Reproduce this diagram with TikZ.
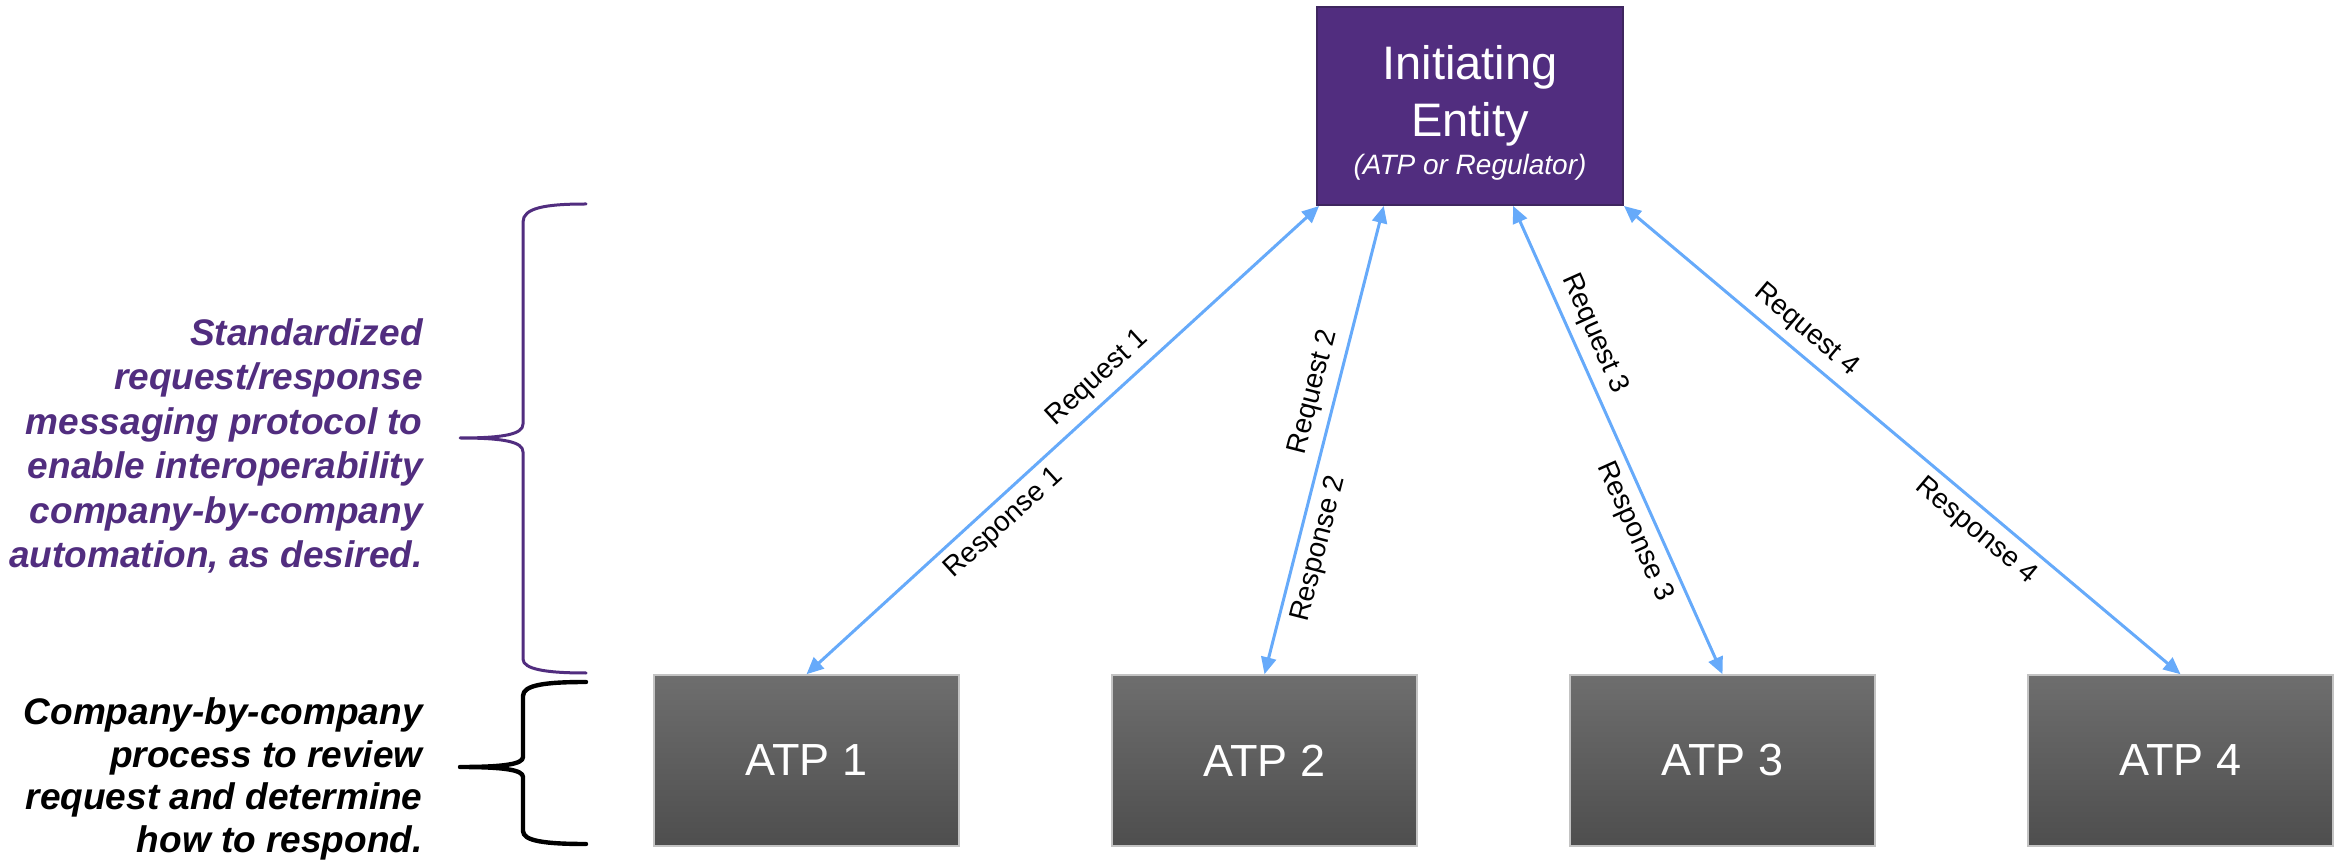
\documentclass[tikz,border=0pt]{standalone}
\usepackage{fontspec}
\setmainfont{Liberation Sans}
\usetikzlibrary{arrows.meta,calc}
\definecolor{entpurple}{RGB}{81,45,127}
\definecolor{entborder}{RGB}{62,38,95}
\definecolor{arrowblue}{RGB}{102,170,250}
\definecolor{atptop}{RGB}{110,110,110}
\definecolor{atpbot}{RGB}{78,78,78}
\definecolor{atpborder}{RGB}{195,195,195}
\begin{document}
\begin{tikzpicture}[x=0.5pt,y=-0.5pt,
  entbox/.style={draw=entborder, line width=1pt, fill=entpurple, minimum width=153pt, minimum height=99pt, inner sep=0pt},
  enttext/.style={text=white, inner sep=0pt, font=\fontsize{23.5}{28}\selectfont},
  entsub/.style={text=white, inner sep=0pt, font=\fontsize{14}{17}\selectfont\itshape},
  atpbox/.style={draw=atpborder, line width=0.75pt, top color=atptop, bottom color=atpbot, minimum width=152.5pt, minimum height=85.5pt, inner sep=0pt, text=white, font=\fontsize{22.5}{27}\selectfont},
  link/.style={draw=arrowblue, line width=1.5pt, {Triangle[length=8.5pt,width=7.5pt]}-{Triangle[length=8.5pt,width=7.5pt]}},
  lab/.style={sloped, text=black, inner sep=4pt, font=\fontsize{14}{17}\selectfont},
  sidepurple/.style={text=entpurple, align=right, inner sep=0pt, font=\fontsize{18.5}{22.3}\selectfont\bfseries\itshape},
  sideblack/.style={text=black, align=right, inner sep=0pt, font=\fontsize{18.5}{21.2}\selectfont\bfseries\itshape},
  bracepurple/.style={draw=entpurple, line width=1.5pt, line cap=round, line join=round},
  braceblack/.style={draw=black, line width=2.2pt, line cap=round, line join=round}
]
\useasboundingbox (0,0) rectangle (2345,865);

% initiating entity
\node[entbox] (ent) at (1470,106) {};
\node[enttext, anchor=base] (entl1) at (1470,80) {Initiating};
\node[enttext, anchor=base] (entl2) at (1470,137) {Entity};
\node[entsub, anchor=base] (entl3) at (1470,175) {(ATP or Regulator)};

% ATP boxes
\node[atpbox] (atp1) at (806.5,760.5) {ATP 1};
\node[atpbox] (atp2) at (1264.5,760.5) {ATP 2};
\node[atpbox] (atp3) at (1722.5,760.5) {ATP 3};
\node[atpbox] (atp4) at (2180.5,760.5) {ATP 4};

% attachment points on the entity box
\coordinate (e1) at ($(ent.south west)!0.01!(ent.south east)$);
\coordinate (e2) at ($(ent.south west)!0.22!(ent.south east)$);
\coordinate (e3) at ($(ent.south west)!0.64!(ent.south east)$);
\coordinate (e4) at (ent.south east);

% connectors
\draw[link] (e1) -- (atp1.north)
  node[lab, above, pos=0.403] (rq1) {Request 1}
  node[lab, below, pos=0.643] (rs1) {Response 1};
\draw[link] (e2) -- (atp2.north)
  node[lab, above, pos=0.409] (rq2) {Request 2}
  node[lab, below, pos=0.720] (rs2) {Response 2};
\draw[link] (e3) -- (atp3.north)
  node[lab, above, pos=0.292] (rq3) {Request 3}
  node[lab, below, pos=0.676] (rs3) {Response 3};
\draw[link] (e4) -- (atp4.north)
  node[lab, above, pos=0.302] (rq4) {Request 4}
  node[lab, below, pos=0.658] (rs4) {Response 4};

% side texts
\node[sidepurple, anchor=base east] (stdtext) at (423,568) {Standardized\\request/response\\messaging protocol to\\enable interoperability\\company-by-company\\automation, as desired.};
\node[sideblack, anchor=base east] (cbctext) at (423,852) {Company-by-company\\process to review\\request and determine\\how to respond.};

% braces
\draw[bracepurple] (586,204) .. controls (545,204) and (523,208) .. (523,222) -- (523,424)
  .. controls (523,434) and (505,438) .. (460,438)
  .. controls (505,438) and (523,442) .. (523,452) -- (523,659)
  .. controls (523,669) and (545,673) .. (586,673);
\draw[braceblack] (586,682) .. controls (545,682) and (523,685) .. (523,696) -- (523,757)
  .. controls (523,764) and (505,767) .. (460,767)
  .. controls (505,767) and (523,770) .. (523,777) -- (523,831)
  .. controls (523,841) and (545,844) .. (586,844);
\end{tikzpicture}
\end{document}
